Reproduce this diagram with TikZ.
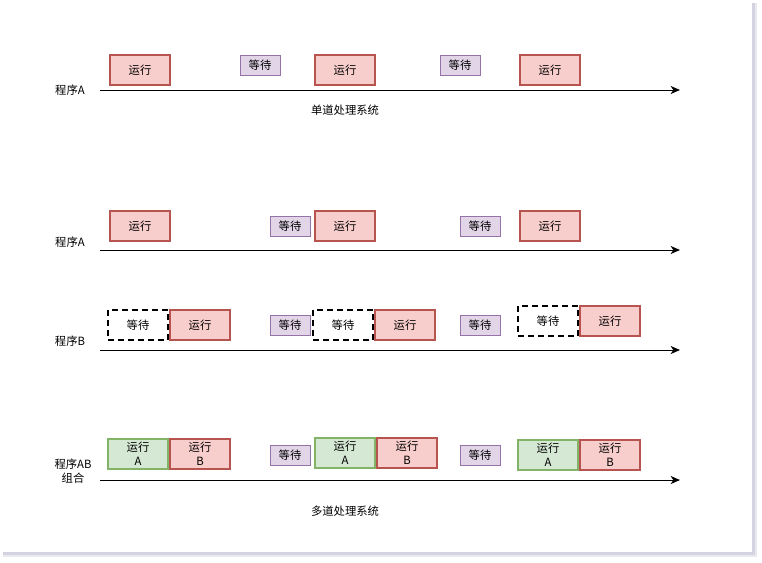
\documentclass[tikz,border=0pt]{standalone}
\usepackage{fontspec}
\setmainfont{Noto Sans CJK SC}
\usetikzlibrary{arrows.meta}
\definecolor{redfill}{HTML}{F8CECC}
\definecolor{redline}{HTML}{B85450}
\definecolor{purfill}{HTML}{E1D5E7}
\definecolor{purline}{HTML}{9673A6}
\definecolor{grnfill}{HTML}{D5E8D4}
\definecolor{grnline}{HTML}{82B366}
\definecolor{shadowc}{HTML}{D3D4E0}
\definecolor{shadowd}{HTML}{E8E9F0}
\tikzset{
  box/.style={draw, inner sep=0pt, align=center, font=\fontsize{8.5pt}{10.5pt}\selectfont},
  runbox/.style={box, fill=redfill, draw=redline, line width=1.5pt, minimum width=45pt, minimum height=22.5pt},
  grnbox/.style={box, fill=grnfill, draw=grnline, line width=1.5pt, minimum width=45pt, minimum height=22.5pt},
  waitbox/.style={box, fill=purfill, draw=purline, line width=0.75pt, minimum width=30pt, minimum height=15pt},
  dashbox/.style={box, fill=white, draw=black, line width=1.5pt, dash pattern=on 4.5pt off 3pt, minimum width=45pt, minimum height=22.5pt},
  lbl/.style={inner sep=0pt, align=center, font=\fontsize{8.5pt}{10.5pt}\selectfont},
  timeline/.style={draw=black, line width=0.75pt, -{Stealth[length=7pt,width=6pt,inset=2pt]}}
}
\begin{document}
\begin{tikzpicture}[x=0.75pt,y=-0.75pt]
\useasboundingbox (0,0) rectangle (762,562);
\fill[shadowd] (3,3) rectangle (757,557);
\fill[shadowc] (3,3) rectangle (755,555);
\fill[white] (0,0) rectangle (752,552);
% Row 1: single program
\node[runbox] (r1a) at (140,70) {运行};
\node[waitbox] (w1a) at (260,65) {等待};
\node[runbox] (r1b) at (345,70) {运行};
\node[waitbox] (w1b) at (460,65) {等待};
\node[runbox] (r1c) at (550,70) {运行};
\node[lbl] (l1) at (70,90) {程序A};
\coordinate (s1) at (100,90);
\coordinate (e1) at (680,90);
\draw[timeline] (s1) -- (e1);
\node[lbl] (c1) at (345,110) {单道处理系统};
% Row 2: program A
\node[runbox] (r2a) at (140,226) {运行};
\node[waitbox] (w2a) at (290,226) {等待};
\node[runbox] (r2b) at (345,226) {运行};
\node[waitbox] (w2b) at (480,226) {等待};
\node[runbox] (r2c) at (550,226) {运行};
\node[lbl] (l2) at (70,242) {程序A};
\coordinate (s2) at (100,250);
\coordinate (e2) at (680,250);
\draw[timeline] (s2) -- (e2);
% Row 3: program B
\node[dashbox] (d3a) at (138,325) {等待};
\node[runbox] (r3a) at (200,325) {运行};
\node[waitbox] (w3a) at (290,325) {等待};
\node[dashbox] (d3b) at (343,325) {等待};
\node[runbox] (r3b) at (405,325) {运行};
\node[waitbox] (w3b) at (480,325) {等待};
\node[dashbox] (d3c) at (548,321) {等待};
\node[runbox] (r3c) at (610,321) {运行};
\node[lbl] (l3) at (70,341) {程序B};
\coordinate (s3) at (100,350);
\coordinate (e3) at (680,350);
\draw[timeline] (s3) -- (e3);
% Row 4: AB combined
\node[grnbox] (g4a) at (138,454) {运行\\A};
\node[runbox] (b4a) at (200,454) {运行\\B};
\node[waitbox] (w4a) at (290,455) {等待};
\node[grnbox] (g4b) at (345,453) {运行\\A};
\node[runbox] (b4b) at (407,453) {运行\\B};
\node[waitbox] (w4b) at (480,455) {等待};
\node[grnbox] (g4c) at (548,455) {运行\\A};
\node[runbox] (b4c) at (610,455) {运行\\B};
\node[lbl] (l4) at (73,471) {程序AB\\组合};
\coordinate (s4) at (100,480);
\coordinate (e4) at (680,480);
\draw[timeline] (s4) -- (e4);
\node[lbl] (c2) at (345,511) {多道处理系统};
\end{tikzpicture}
\end{document}
